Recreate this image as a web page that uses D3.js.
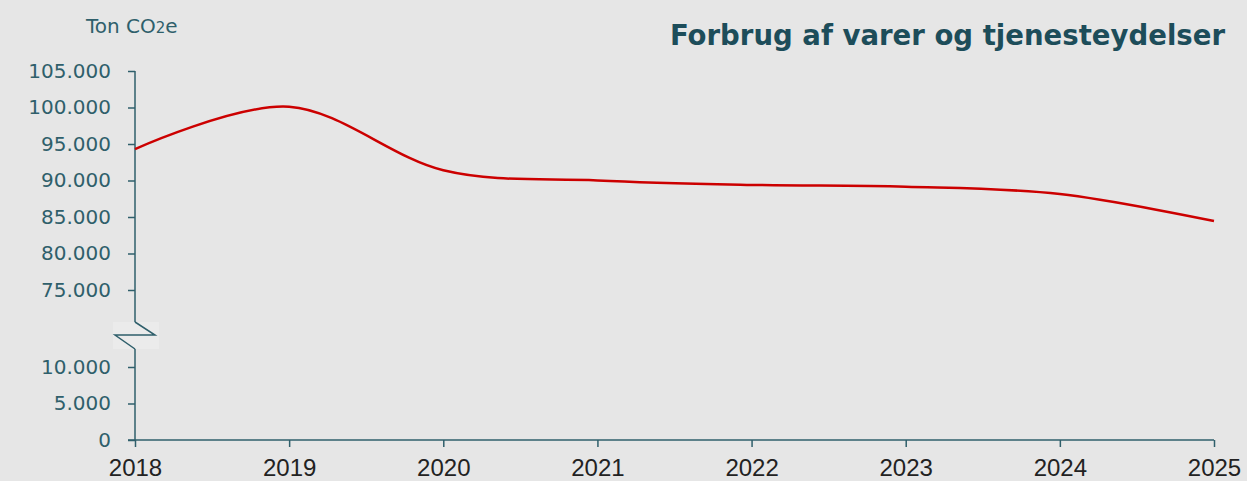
<!DOCTYPE html>
<html>
<head>
<meta charset="utf-8">
<script src="https://cdn.jsdelivr.net/npm/d3@7.9.0/dist/d3.min.js"></script>
<style>
  html, body { margin: 0; padding: 0; background: #e6e6e6; }
  svg { display: block; }
</style>
</head>
<body>
<svg id="chart" width="1247" height="481"></svg>
<script>
const years = [2018, 2019, 2020, 2021, 2022, 2023, 2024, 2025];
const emissions = [94300, 100100, 91400, 90000, 89400, 89150, 88150, 84450];
const upperTicks = [75000, 80000, 85000, 90000, 95000, 100000, 105000];
const lowerTicks = [0, 5000, 10000];

const svg = d3.select("#chart");
const axisColor = "#2f5f6b";
const fmt = d => d === 0 ? "0" : d3.format(",")(d).replace(/,/g, ".");

svg.append("rect")
  .attr("width", 1247).attr("height", 481)
  .attr("fill", "#e6e6e6");

const x = d3.scalePoint()
  .domain(years)
  .range([135, 1214]);

// broken y axis: two scales, same px per unit
const yHigh = d3.scaleLinear().domain([75000, 105000]).range([290, 71]);
const yLow = d3.scaleLinear().domain([0, 10000]).range([440, 367]);

// upper axis
const gHigh = svg.append("g")
  .attr("transform", "translate(135,0)")
  .call(d3.axisLeft(yHigh).tickValues(upperTicks).tickFormat(fmt).tickSize(7).tickPadding(17).tickSizeOuter(0));
gHigh.select(".domain").attr("d", "M0,71V322");

const gLow = svg.append("g")
  .attr("transform", "translate(135,0)")
  .call(d3.axisLeft(yLow).tickValues(lowerTicks).tickFormat(fmt).tickSize(7).tickPadding(17).tickSizeOuter(0));
gLow.select(".domain").attr("d", "M0,349V440");

[gHigh, gLow].forEach(g => {
  g.selectAll(".domain, line").attr("stroke", axisColor).attr("stroke-width", 1.5);
  g.selectAll("text")
    .attr("fill", axisColor)
    .attr("font-family", "'DejaVu Sans', sans-serif")
    .attr("font-size", 20);
});

// break marker
svg.append("rect")
  .attr("x", 113).attr("y", 322).attr("width", 46).attr("height", 27)
  .attr("fill", "#ebebeb");
svg.append("path")
  .attr("d", "M135,322L155,335L115,335L135,349")
  .attr("fill", "none")
  .attr("stroke", axisColor)
  .attr("stroke-width", 1.5);

// x axis
const gx = svg.append("g")
  .attr("transform", "translate(0,440)")
  .call(d3.axisBottom(x).tickSize(7).tickPadding(12).tickSizeOuter(0));
gx.select(".domain").attr("d", "M128,0H1214");
gx.selectAll(".domain, line").attr("stroke", axisColor).attr("stroke-width", 1.5);
gx.selectAll("text")
  .attr("fill", "#222")
  .attr("font-family", "'Liberation Sans', Arial, sans-serif")
  .attr("font-size", 24);

// line
const line = d3.line()
  .x((d, i) => x(years[i]))
  .y(d => yHigh(d))
  .curve(d3.curveCardinal.tension(0));

svg.append("path")
  .datum(emissions)
  .attr("fill", "none")
  .attr("stroke", "#cc0000")
  .attr("stroke-width", 2.5)
  .attr("d", line);

// unit label
const unit = svg.append("text")
  .attr("x", 86).attr("y", 33)
  .attr("fill", axisColor)
  .attr("font-family", "'DejaVu Sans', sans-serif")
  .attr("font-size", 20);
unit.append("tspan").text("Ton CO");
unit.append("tspan").attr("font-size", 15).text("2");
unit.append("tspan").text("e");

// title
svg.append("text")
  .attr("x", 1225).attr("y", 45)
  .attr("text-anchor", "end")
  .attr("fill", "#1d4d5a")
  .attr("font-family", "'DejaVu Sans Condensed', 'DejaVu Sans', sans-serif")
  .attr("font-weight", "bold")
  .attr("font-size", 29)
  .attr("textLength", 555)
  .attr("lengthAdjust", "spacingAndGlyphs")
  .text("Forbrug af varer og tjenesteydelser");
</script>
</body>
</html>
